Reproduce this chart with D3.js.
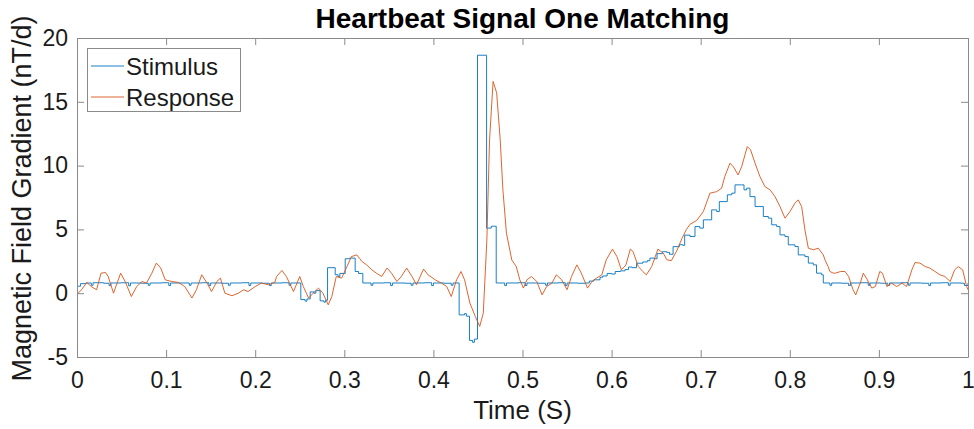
<!DOCTYPE html>
<html>
<head>
<meta charset="utf-8">
<script src="https://cdn.jsdelivr.net/npm/d3@7"></script>
<style>
  html, body { margin: 0; padding: 0; background: #fff; }
  svg { display: block; font-family: "Liberation Sans", Arial, Helvetica, sans-serif; }
</style>
</head>
<body>
<svg id="chart" width="974" height="429"></svg>
<script>
// ---------- DATA ----------
const chartTitle = "Heartbeat Signal One Matching";
const xLabel = "Time (S)";
const yLabel = "Magnetic Field Gradient (nT/d)";
const seriesNames = ["Stimulus", "Response"];
const xTicks = [0, 0.1, 0.2, 0.3, 0.4, 0.5, 0.6, 0.7, 0.8, 0.9, 1];
const xTickLabels = ["0", "0.1", "0.2", "0.3", "0.4", "0.5", "0.6", "0.7", "0.8", "0.9", "1"];
const yTicks = [-5, 0, 5, 10, 15, 20];
const yTickLabels = ["-5", "0", "5", "10", "15", "20"];

// Stimulus (stepped signal): time, value
const stimulusTime = [
  0.000, 0.004, 0.010, 0.016, 0.018, 0.030, 0.036, 0.038, 0.050, 0.058, 0.060, 0.072, 0.080, 0.082,
  0.095, 0.103, 0.105, 0.118, 0.126, 0.128, 0.140, 0.148, 0.150, 0.162, 0.170, 0.172, 0.185, 0.193,
  0.195, 0.208, 0.216, 0.218, 0.230, 0.238, 0.240,
  0.2512, 0.256, 0.258, 0.2617, 0.266, 0.268, 0.2729, 0.277, 0.279, 0.2812, 0.2898, 0.293, 0.295,
  0.3010, 0.306, 0.3122, 0.316, 0.3208, 0.330, 0.332, 0.345, 0.352, 0.354, 0.368, 0.375, 0.377,
  0.390, 0.398, 0.400, 0.412, 0.420, 0.422,
  0.4289, 0.435, 0.437, 0.4405, 0.444, 0.446, 0.4495, 0.4597, 0.465, 0.4705,
  0.480, 0.482, 0.495, 0.503, 0.505, 0.518, 0.526, 0.528, 0.540, 0.548, 0.550, 0.562, 0.570,
  0.575, 0.580, 0.587, 0.590, 0.595, 0.600, 0.604, 0.610, 0.615, 0.619, 0.623, 0.628, 0.635, 0.640,
  0.643, 0.648, 0.651, 0.657, 0.662, 0.665, 0.669, 0.676, 0.680, 0.682,
  0.688, 0.6936, 0.699, 0.703, 0.7085, 0.7123, 0.718, 0.7209, 0.7273, 0.7299, 0.7348, 0.7385, 0.746,
  0.7486, 0.7516, 0.7553, 0.761, 0.7666, 0.7703, 0.7759, 0.7797, 0.7853, 0.789, 0.7946, 0.7983,
  0.8058, 0.8095, 0.817, 0.8208, 0.8264, 0.830, 0.8358, 0.8376,
  0.845, 0.847, 0.858, 0.866, 0.868, 0.880, 0.888, 0.890, 0.902, 0.910, 0.912, 0.925, 0.933, 0.935,
  0.948, 0.956, 0.958, 0.970, 0.978, 0.980, 0.992, 0.996, 1.000
];
const stimulusValue = [
  0.55, 0.75, 0.80, 0.62, 0.82, 0.78, 0.60, 0.80, 0.82, 0.58, 0.80, 0.78, 0.62, 0.80,
  0.82, 0.60, 0.80, 0.80, 0.62, 0.80, 0.82, 0.60, 0.80, 0.78, 0.62, 0.80, 0.82, 0.60,
  0.80, 0.78, 0.60, 0.80, 0.82, 0.62, 0.80,
  -0.50, -0.62, -0.45, 0.10, 0.00, 0.20, -0.60, -0.70, -0.55, 2.00, 1.45, 1.30, 1.55,
  2.70, 2.75, 1.70, 1.55, 0.80, 0.62, 0.80, 0.82, 0.60, 0.80, 0.78, 0.62, 0.80,
  0.82, 0.60, 0.80, 0.78, 0.62, 0.80,
  -1.70, -1.60, -1.80, -3.70, -3.85, -3.60, 18.65, 5.10, 5.25, 0.80,
  0.60, 0.80, 0.82, 0.60, 0.80, 0.78, 0.62, 0.80, 0.82, 0.60, 0.80, 0.78, 0.80,
  0.95, 1.05, 1.25, 1.35, 1.55, 1.50, 1.70, 1.75, 1.85, 2.05, 2.00, 2.35, 2.45, 2.55,
  2.75, 2.70, 3.10, 3.25, 3.20, 3.05, 3.65, 3.80, 3.75, 4.55,
  4.44, 5.22, 5.10, 5.75, 5.75, 6.53, 6.40, 7.18, 7.18, 7.71, 7.84, 8.49, 8.49,
  8.10, 8.23, 7.57, 6.79, 6.79, 6.01, 5.88, 5.36, 5.22, 4.57, 4.44, 3.79,
  3.66, 3.00, 2.87, 2.36, 2.22, 1.57, 1.44, 0.80,
  0.62, 0.80, 0.78, 0.60, 0.80, 0.82, 0.62, 0.80, 0.78, 0.60, 0.80, 0.82, 0.62, 0.80,
  0.78, 0.60, 0.80, 0.82, 0.62, 0.80, 0.78, 0.60, 0.80
];

// Response (smooth signal): time, value
const responseTime = [
  0.000, 0.005, 0.011, 0.016, 0.022, 0.027, 0.032, 0.035, 0.041, 0.045, 0.049, 0.054, 0.061, 0.067,
  0.073, 0.078, 0.084, 0.089, 0.094, 0.099, 0.106, 0.114, 0.121, 0.129, 0.134, 0.140, 0.146, 0.151,
  0.157, 0.161, 0.166, 0.174, 0.181, 0.187, 0.192, 0.200, 0.207, 0.215, 0.222, 0.224, 0.230, 0.235,
  0.243, 0.250, 0.254, 0.260, 0.265, 0.271, 0.276, 0.282, 0.286, 0.291, 0.297, 0.303, 0.308, 0.314,
  0.320, 0.325, 0.331, 0.336, 0.342, 0.348, 0.353, 0.359, 0.364, 0.370, 0.376, 0.381, 0.389, 0.394,
  0.402, 0.409, 0.415, 0.420, 0.426, 0.431, 0.435, 0.441, 0.447, 0.452, 0.456, 0.460, 0.463, 0.467,
  0.471, 0.475, 0.478, 0.482, 0.488, 0.493, 0.497, 0.501, 0.505, 0.510, 0.516, 0.522, 0.527, 0.533,
  0.538, 0.544, 0.550, 0.555, 0.561, 0.566, 0.573, 0.578, 0.583, 0.589, 0.594, 0.601, 0.606, 0.611,
  0.616, 0.621, 0.624, 0.630, 0.635, 0.639, 0.645, 0.652, 0.658, 0.662, 0.667, 0.673, 0.679, 0.684,
  0.688, 0.6955, 0.703, 0.7104, 0.718, 0.7235, 0.727, 0.7329, 0.7366, 0.742, 0.746, 0.7497, 0.7523,
  0.756, 0.761, 0.7665, 0.772, 0.7778, 0.7834, 0.789, 0.7946, 0.8002, 0.8058, 0.8095, 0.8133, 0.817,
  0.8208, 0.8264, 0.832, 0.8376, 0.8395, 0.843, 0.845, 0.849, 0.851, 0.857, 0.862, 0.866, 0.871,
  0.874, 0.879, 0.8825, 0.886, 0.892, 0.896, 0.901, 0.904, 0.909, 0.914, 0.920, 0.926, 0.931, 0.937,
  0.9405, 0.946, 0.952, 0.957, 0.963, 0.9686, 0.974, 0.980, 0.985, 0.989, 0.994, 0.9985, 1.000
];
const responseValue = [
  -0.10, 0.27, 0.84, 0.52, 0.27, 1.57, 1.62, 1.31, 0.00, 0.79, 1.57, 0.92, -0.26, 0.52,
  0.92, 0.79, 1.57, 2.36, 1.97, 1.05, 0.92, 0.84, 0.52, -0.38, 0.27, 1.44, 0.79, 0.13,
  0.92, 1.18, 0.00, -0.20, 0.00, 0.27, 0.13, 0.52, 0.79, 0.66, 0.84, 1.31, 1.78, 1.31,
  0.13, 1.31, 0.52, -0.38, 0.00, 0.40, 0.00, -0.91, -0.26, 1.31, 1.18, 2.09, 2.87, 3.00,
  2.48, 2.22, 1.83, 1.57, 1.31, 1.97, 1.57, 0.92, 1.31, 1.97, 1.31, 0.66, 1.89, 1.44,
  1.05, 0.79, 0.52, -0.26, 1.05, 1.70, 1.05, -0.78, -1.82, -2.60, -1.56, 4.18, 12.0, 16.6,
  15.7, 12.0, 8.1, 4.7, 2.6, 2.09, 1.05, 0.40, 1.05, 1.31, 0.92, -0.13, 0.52, 0.79,
  1.44, 1.05, 0.27, 1.31, 2.22, 1.57, 0.40, 0.92, 1.18, 1.44, 2.62, 3.45, 2.87, 1.83,
  2.20, 3.45, 3.27, 2.09, 1.70, 1.44, 2.09, 3.45, 3.14, 2.62, 2.55, 3.30, 4.30, 5.00,
  5.40, 5.70, 6.40, 7.84, 7.96, 8.23, 9.14, 10.19, 9.92, 9.27, 9.92, 10.84, 11.49,
  11.23, 10.19, 9.14, 8.36, 8.10, 7.57, 6.79, 5.88, 6.40, 7.06, 7.31, 6.79, 4.96,
  3.53, 3.40, 3.53, 3.00, 2.61, 2.09, 1.70, 1.57, 1.57, 1.70, 1.70, 1.31, 0.27,
  -0.13, 0.79, 1.57, 1.18, 0.40, 0.52, 1.70, 1.57, 0.52, 0.79, 0.52, 0.79, 0.52, 1.83,
  2.40, 2.36, 2.09, 1.97, 1.70, 1.44, 1.31, 0.92, 1.83, 2.09, 1.83, 0.52, 0.27
];

// ---------- LAYOUT ----------
const W = 974, H = 429;
const plot = { left: 77, right: 968, top: 38, bottom: 357 };
const colors = ["#0072BD", "#D95319"];
const axisColor = "#8a8a8a";
const textColor = "#1a1a1a";

const svg = d3.select("#chart");
const x = d3.scaleLinear().domain([0, 1]).range([plot.left, plot.right]);
const y = d3.scaleLinear().domain([-5, 20]).range([plot.bottom, plot.top]);

svg.append("rect").attr("x", 0).attr("y", 0).attr("width", W).attr("height", H).attr("fill", "#fff");

svg.append("defs").append("clipPath").attr("id", "clip")
  .append("rect").attr("x", plot.left).attr("y", plot.top)
  .attr("width", plot.right - plot.left).attr("height", plot.bottom - plot.top);

// data lines
const stim = stimulusTime.map((t, i) => [t, stimulusValue[i]]);
const resp = responseTime.map((t, i) => [t, responseValue[i]]);

const g = svg.append("g").attr("clip-path", "url(#clip)");
g.append("path").datum(stim)
  .attr("fill", "none").attr("stroke", colors[0]).attr("stroke-width", 0.9)
  .attr("d", d3.line().x(d => x(d[0])).y(d => y(d[1])).curve(d3.curveStepAfter));
g.append("path").datum(resp)
  .attr("fill", "none").attr("stroke", colors[1]).attr("stroke-width", 0.9)
  .attr("d", d3.line().x(d => x(d[0])).y(d => y(d[1])));

// axes (ticks inward, on all four sides)
const tickLen = 7;
const fontTick = 23;
const xAxisB = d3.axisBottom(x).tickValues(xTicks).tickSizeInner(-tickLen).tickSizeOuter(0)
  .tickPadding(15).tickFormat((d, i) => xTickLabels[i]);
const xAxisT = d3.axisTop(x).tickValues(xTicks).tickSizeInner(-tickLen).tickSizeOuter(0).tickFormat("");
const yAxisL = d3.axisLeft(y).tickValues(yTicks).tickSizeInner(-tickLen).tickSizeOuter(0)
  .tickPadding(9).tickFormat((d, i) => yTickLabels[i]);
const yAxisR = d3.axisRight(y).tickValues(yTicks).tickSizeInner(-tickLen).tickSizeOuter(0).tickFormat("");

function styleAxis(sel) {
  sel.select(".domain").attr("stroke", axisColor).attr("stroke-width", 1);
  sel.selectAll(".tick line").attr("stroke", axisColor).attr("stroke-width", 1);
  sel.selectAll(".tick text").attr("fill", textColor)
    .style("font-family", '"Liberation Sans", Arial, sans-serif').style("font-size", fontTick + "px");
}
svg.append("g").attr("transform", `translate(0,${plot.bottom})`).call(xAxisB).call(styleAxis);
svg.append("g").attr("transform", `translate(0,${plot.top})`).call(xAxisT).call(styleAxis);
svg.append("g").attr("transform", `translate(${plot.left},0)`).call(yAxisL).call(styleAxis);
svg.append("g").attr("transform", `translate(${plot.right},0)`).call(yAxisR).call(styleAxis);

// title and labels
svg.append("text").attr("x", (plot.left + plot.right) / 2).attr("y", 28)
  .attr("text-anchor", "middle").attr("fill", "#000")
  .style("font-size", "28px").style("font-weight", "bold").text(chartTitle);
svg.append("text").attr("x", (plot.left + plot.right) / 2).attr("y", 419)
  .attr("text-anchor", "middle").attr("fill", textColor)
  .style("font-size", "26px").text(xLabel);
svg.append("text").attr("transform", `translate(31,${(plot.top + plot.bottom) / 2 + 1}) rotate(-90)`)
  .attr("text-anchor", "middle").attr("fill", textColor)
  .style("font-size", "27px").text(yLabel);

// legend
const leg = svg.append("g");
leg.append("rect").attr("x", 87.5).attr("y", 48.5).attr("width", 153).attr("height", 63)
  .attr("fill", "#fff").attr("stroke", axisColor).attr("stroke-width", 1);
seriesNames.forEach((name, i) => {
  const ly = 66 + i * 31;
  leg.append("line").attr("x1", 91).attr("x2", 124).attr("y1", ly).attr("y2", ly)
    .attr("stroke", colors[i]).attr("stroke-width", 0.9);
  leg.append("text").attr("x", 126).attr("y", ly).attr("dy", "0.36em")
    .attr("fill", textColor).style("font-size", "24px").text(name);
});
</script>
</body>
</html>
